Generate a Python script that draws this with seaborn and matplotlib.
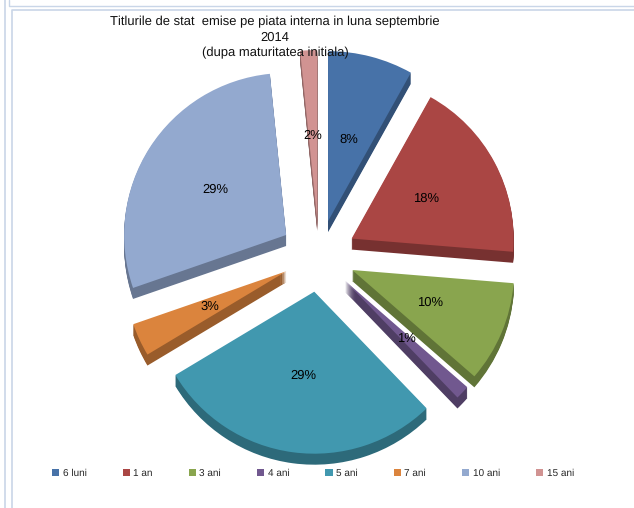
"""
Titluri de stat - exploded pie with fake 3D depth
"""
import matplotlib
matplotlib.use('Agg')
import matplotlib.pyplot as plt
import seaborn as sns

categories = ['6 luni', '1 an', '3 ani', '4 ani', '5 ani', '7 ani', '10 ani', '15 ani']
values = [8.1, 18.2, 10.1, 1.4, 28.6, 3.3, 28.7, 1.6]
colors = ['#4772a8', '#aa4644', '#89a54e', '#71588f', '#4198af', '#db843d', '#93a9cf', '#d19392']
title_lines = ['Titlurile de stat  emise pe piata interna in luna septembrie',
               '2014',
               '(dupa maturitatea initiala)']

sns.set_theme(style='white')
plt.rcParams['font.family'] = ['Liberation Sans', 'DejaVu Sans']
plt.rcParams['text.hinting'] = 'no_hinting'
plt.rcParams['text.hinting_factor'] = 1

palette = sns.color_palette(colors)
dark = [tuple(c * 0.7 for c in col) for col in palette]

fig = plt.figure(figsize=(6.34, 5.08), dpi=100)
ax = fig.add_axes([0, 0, 1, 1])

# axes run in pixels of the picture
W, H = 634, 508
R = 162
DEPTH = 11
cx, cy = 319, H - 256
explode = [36, 37, 36, 36, 36, 36, 39, 36]
big = [0, 7]  # the two top slices reach a bit higher


def draw_pie(y, cols, **kw):
    res = ax.pie(values, colors=cols, explode=explode, center=(cx, y), radius=R,
                 startangle=90, counterclock=False,
                 wedgeprops={'linewidth': 0}, **kw)
    for i in big:
        res[0][i].set_radius(R + 8)
    return res


# side walls first, one layer per pixel
for d in range(DEPTH, 0, -1):
    draw_pie(cy - d, dark)

wedges, texts, pcts = draw_pie(cy, palette, autopct='%1.0f%%', pctdistance=0.52,
                               textprops={'fontsize': 9.3, 'color': 'black'})

ax.set_xlim(0, W)
ax.set_ylim(0, H)
ax.set_aspect('auto')
ax.axis('off')

# page frame lines behind the chart
frame = '#c9d6e8'
ax.plot([4.5, 4.5], [0, H], color=frame, lw=1.2)
ax.plot([9, 9, W], [H, H - 6, H - 6], color=frame, lw=1)
ax.plot([12, 12, W], [0, H - 10, H - 10], color=frame, lw=1.2)

for line, y in zip(title_lines, [22, 38, 53]):
    ax.text(275, H - y, line, ha='center', va='center', fontsize=9.0, color='#111111')

leg = ax.legend(wedges, categories, loc='center', bbox_to_anchor=(313 / W, 1 - 473 / H),
                ncol=8, frameon=False, fontsize=7, handlelength=0.75, handleheight=0.75,
                handletextpad=0.35, columnspacing=3.7, borderpad=0)

fig.savefig('out.png', dpi=100)
plt.close()
